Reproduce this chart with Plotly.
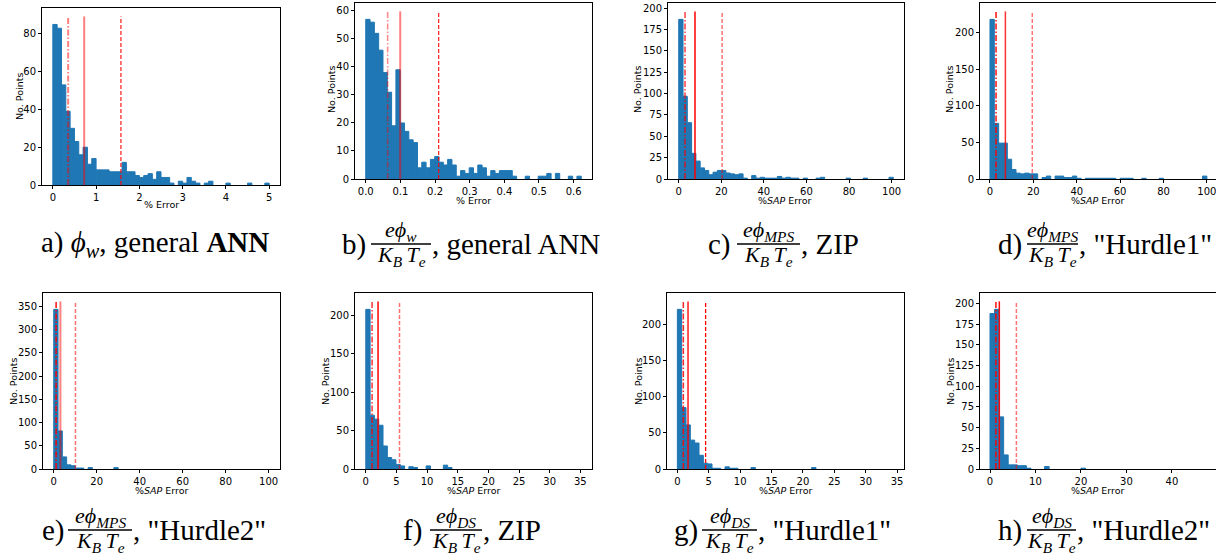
import plotly.graph_objects as go

W, H = 1216, 558

# ---- histogram data: 50 bins per panel (first edge, bin width, counts) ----
bins_a = (0.0, 0.1)
counts_a = [85, 83, 53, 39, 30, 23, 16, 20, 11, 14,
            8, 8, 8, 7, 7, 7, 12, 7, 7, 5,
            4, 5, 6, 3, 7, 4, 4, 1, 0, 2,
            1, 4, 2, 1, 0, 1, 2, 0, 0, 0,
            1, 0, 0, 0, 0, 1, 0, 0, 0, 1]

bins_b = (0.0, 0.01244)
counts_b = [57, 56, 52, 46, 38, 31, 19, 39, 20, 17,
            14, 13, 4, 6, 4, 7, 8, 6, 5, 7,
            5, 1, 3, 2, 4, 2, 5, 4, 1, 3,
            2, 3, 3, 3, 1, 0, 0, 1, 0, 0,
            1, 1, 2, 0, 2, 0, 0, 1, 0, 1]

bins_c = (0.0, 2.016)
counts_c = [187, 97, 66, 30, 21, 13, 10, 5, 8, 10,
            10, 7, 6, 5, 6, 1, 0, 4, 1, 2,
            1, 1, 1, 3, 1, 2, 1, 1, 0, 1,
            0, 0, 1, 2, 0, 0, 0, 0, 0, 1,
            0, 0, 0, 1, 0, 0, 0, 0, 0, 2]

bins_d = (0.0, 2.0)
counts_d = [218, 76, 49, 49, 27, 13, 8, 7, 8, 7,
            7, 0, 2, 4, 0, 4, 4, 2, 2, 4,
            1, 0, 1, 1, 1, 1, 1, 1, 1, 0,
            1, 1, 1, 0, 0, 1, 0, 0, 0, 1,
            0, 0, 0, 0, 0, 0, 0, 0, 0, 4]

bins_e = (0.0, 2.0)
counts_e = [344, 82, 26, 9, 7, 2, 2, 0, 3, 0,
            0, 0, 0, 0, 3, 0, 0, 0, 0, 0,
            0, 0, 0, 0, 0, 0, 0, 0, 0, 0,
            0, 0, 0, 0, 0, 0, 0, 0, 0, 0,
            0, 0, 0, 0, 0, 0, 0, 0, 0, 0]

bins_f = (0.0, 0.703)
counts_f = [208, 70, 65, 57, 30, 15, 12, 6, 4, 0,
            3, 2, 0, 0, 4, 0, 0, 0, 5, 2,
            0, 0, 0, 0, 0, 0, 0, 0, 0, 0,
            0, 0, 0, 0, 0, 0, 0, 0, 0, 0,
            0, 0, 0, 0, 0, 0, 0, 0, 0, 0]

bins_g = (0.0, 0.69)
counts_g = [221, 85, 61, 40, 36, 19, 8, 7, 1, 1,
            0, 3, 1, 1, 0, 0, 0, 2, 0, 0,
            0, 0, 0, 0, 0, 0, 0, 0, 0, 0,
            0, 2, 0, 0, 0, 0, 0, 0, 0, 0,
            0, 0, 0, 0, 0, 0, 0, 0, 0, 0]

bins_h = (0.0, 1.0)
counts_h = [188, 193, 63, 17, 5, 5, 4, 4, 1, 0,
            0, 0, 3, 0, 0, 0, 0, 0, 0, 0,
            1, 0, 0, 0, 0, 0, 0, 0, 0, 0,
            0, 0, 0, 0, 0, 0, 0, 0, 0, 0,
            0, 0, 0, 0, 0, 0, 0, 0, 0, 0]

# reference markers per panel: median (dash-dot), mean (solid), upper (dashed)
marks_a = [0.355, 0.725, 1.574]
marks_b = [0.0632, 0.0995, 0.2105]
marks_c = [2.96, 7.64, 20.4]
marks_d = [2.8, 7.1, 19.5]
marks_e = [1.1, 3.1, 10.1]
marks_f = [1.03, 2.0, 5.5]
marks_g = [0.95, 1.7, 4.5]
marks_h = [1.3, 2.05, 5.8]

# tick values
xticks_a = [0, 1, 2, 3, 4, 5]
xticks_b = [0.0, 0.1, 0.2, 0.3, 0.4, 0.5, 0.6]
xticks_pct = [0, 20, 40, 60, 80, 100]
xticks_fg = [0, 5, 10, 15, 20, 25, 30, 35]
xticks_h = [0, 10, 20, 30, 40]
yticks_a = [0, 20, 40, 60, 80]
yticks_b = [0, 10, 20, 30, 40, 50, 60]
yticks_25 = [0, 25, 50, 75, 100, 125, 150, 175, 200]
yticks_50_200 = [0, 50, 100, 150, 200]
yticks_e = [0, 50, 100, 150, 200, 250, 300, 350]

xlabel_plain = "% Error"
xlabel_sap = "%<i>SAP</i> Error"
ylabel = "No. Points"

BAR = "#1f77b4"
TICKFONT = dict(family="DejaVu Sans", size=10, color="#000000")
LABELFONT = dict(family="DejaVu Sans", size=9.5, color="#000000")


def red(a):
    return f"rgba(255,0,0,{a})"


# panel layout: pixel boxes (left, right, top, bottom), x range, ticks, labels
panels = [
    dict(bins=bins_a, counts=counts_a, marks=marks_a, box=(42, 280, 8, 185),
         xr=[-0.25, 5.25], xt=xticks_a, yt=yticks_a, xfmt="", xl=xlabel_plain,
         xlp=(161, 205), ylp=(19, 97), alphas=(0.5, 0.5, 0.9), widths=(2, 2, 1.2)),
    dict(bins=bins_b, counts=counts_b, marks=marks_b, box=(355, 592, 3, 179),
         xr=[-0.031, 0.653], xt=xticks_b, yt=yticks_b, xfmt=".1f", xl=xlabel_plain,
         xlp=(473, 200), ylp=(332, 90), alphas=(0.45, 0.5, 0.9), widths=(1.6, 2, 1.2)),
    dict(bins=bins_c, counts=counts_c, marks=marks_c, box=(668, 904, 3, 179),
         xr=[-5.04, 105.84], xt=xticks_pct, yt=yticks_25, xfmt="", xl=xlabel_sap,
         xlp=(785, 200), ylp=(638, 90), alphas=(0.75, 1.0, 0.55), widths=(1.5, 1.5, 1.5)),
    dict(bins=bins_d, counts=counts_d, marks=marks_d, box=(980, 1216, 3, 179),
         xr=[-4.6, 104.2], xt=xticks_pct, yt=yticks_50_200, xfmt="", xl=xlabel_sap,
         xlp=(1098, 200), ylp=(950, 90), alphas=(0.95, 0.8, 0.55), widths=(1.5, 1.5, 1.5),
         open_right=True),
    dict(bins=bins_e, counts=counts_e, marks=marks_e, box=(43, 280, 293, 469),
         xr=[-5.0, 105.3], xt=xticks_pct, yt=yticks_e, xfmt="", xl=xlabel_sap,
         xlp=(162, 490), ylp=(13, 382), alphas=(0.95, 0.5, 0.55), widths=(1.5, 2, 1.5)),
    dict(bins=bins_f, counts=counts_f, marks=marks_f, box=(355, 592, 293, 469),
         xr=[-1.76, 36.9], xt=xticks_fg, yt=yticks_50_200, xfmt="", xl=xlabel_sap,
         xlp=(474, 490), ylp=(325, 382), alphas=(0.8, 1.0, 0.55), widths=(1.5, 1.5, 1.5)),
    dict(bins=bins_g, counts=counts_g, marks=marks_g, box=(667, 904, 293, 469),
         xr=[-1.65, 36.1], xt=xticks_fg, yt=yticks_50_200, xfmt="", xl=xlabel_sap,
         xlp=(786, 490), ylp=(638, 382), alphas=(0.85, 0.9, 1.0), widths=(1.5, 1.5, 1.3)),
    dict(bins=bins_h, counts=counts_h, marks=marks_h, box=(980, 1216, 293, 469),
         xr=[-2.2, 49.7], xt=xticks_h, yt=yticks_25, xfmt="", xl=xlabel_sap,
         xlp=(1098, 490), ylp=(950, 382), alphas=(0.95, 0.95, 0.55), widths=(1.5, 1.5, 1.5),
         open_right=True),
]

DASHES = ("6px,2px,1.5px,2px", "solid", "4px,2px")

fig = go.Figure()
annotations = []
layout = {}

for i, p in enumerate(panels, start=1):
    sfx = "" if i == 1 else str(i)
    xa, ya = "x" + sfx, "y" + sfx
    start, bw = p["bins"]
    counts = p["counts"]
    xs = [start + bw * (k + 0.5) for k, c in enumerate(counts) if c > 0]
    ys = [c for c in counts if c > 0]
    fig.add_trace(go.Bar(x=xs, y=ys, width=bw,
                         marker=dict(color=BAR, line=dict(width=1, color=BAR)),
                         xaxis=xa, yaxis=ya, showlegend=False, hoverinfo="skip"))
    top = 1.05 * max(counts)
    for v, dash, a, lw in zip(p["marks"], DASHES, p["alphas"], p["widths"]):
        fig.add_trace(go.Scatter(x=[v, v], y=[0, top], mode="lines",
                                 line=dict(color=red(a), width=lw, dash=dash),
                                 xaxis=xa, yaxis=ya, showlegend=False, hoverinfo="skip"))
    l, r, t, b = p["box"]
    common = dict(showline=True, linecolor="#000000", linewidth=1,
                  ticks="outside", ticklen=3, tickwidth=1, tickcolor="#000000",
                  showgrid=False, zeroline=False, tickfont=TICKFONT, automargin=False,
                  ticklabeloverflow="allow")
    layout["xaxis" + sfx] = dict(domain=[l / W, r / W], range=p["xr"], tickvals=p["xt"],
                                 tickformat=p["xfmt"], anchor=ya, mirror=True, **common)
    layout["yaxis" + sfx] = dict(domain=[1 - b / H, 1 - t / H], range=[0, 1.05 * top],
                                 tickvals=p["yt"], anchor=xa,
                                 mirror=not p.get("open_right", False), **common)
    annotations.append(dict(text=p["xl"], x=p["xlp"][0] / W, y=1 - p["xlp"][1] / H,
                            xref="paper", yref="paper", showarrow=False, font=LABELFONT,
                            xanchor="center", yanchor="middle"))
    annotations.append(dict(text=ylabel, x=p["ylp"][0] / W, y=1 - p["ylp"][1] / H,
                            xref="paper", yref="paper", showarrow=False, font=LABELFONT,
                            textangle=-90, xanchor="center", yanchor="middle"))

# ---- captions ----
SERIF = "Liberation Serif, DejaVu Serif, serif"
CAP = dict(family=SERIF, size=29, color="#000000")
FRAC = dict(family=SERIF, size=22, color="#000000")

den = "<i>K</i><sub><i>B</i></sub>\u2009<i>T</i><sub><i>e</i></sub>"
num_w = "<i>eϕ</i><sub><i>w</i></sub>"
num_mps = "<i>eϕ</i><sub><i>MPS</i></sub>"
num_ds = "<i>eϕ</i><sub><i>DS</i></sub>"

caption_a = "a) <i>ϕ</i><sub><i>w</i></sub>, general <b>ANN</b>"
captions = [
    ("b)", num_w, ", general ANN"),
    ("c)", num_mps, ", ZIP"),
    ("d)", num_mps, ', "Hurdle1"'),
    ("e)", num_mps, ', "Hurdle2"'),
    ("f)", num_ds, ", ZIP"),
    ("g)", num_ds, ', "Hurdle1"'),
    ("h)", num_ds, ', "Hurdle2"'),
]
# (label left, fraction left, fraction right, fraction bar height)
caption_pos = [
    (342, 371, 431, 244),
    (708, 737, 800, 244),
    (998, 1027, 1078, 244),
    (42, 68, 132, 530),
    (403, 430, 482, 530),
    (674, 702, 757, 530),
    (998, 1027, 1076, 530),
]

shapes = []


def cap_text(text, x, y, font, xanchor="left", yanchor="middle"):
    return dict(text=text, x=x / W, y=1 - y / H, xref="paper", yref="paper",
                showarrow=False, font=font, xanchor=xanchor, yanchor=yanchor,
                align="left", borderpad=0)


annotations.append(cap_text(caption_a, 40, 244, CAP))
for (lab, num, tail), (xl, fl, fr, yc) in zip(captions, caption_pos):
    fc = (fl + fr) / 2
    annotations.append(cap_text(lab, xl - 1, yc, CAP))
    annotations.append(cap_text(num, fc, yc + 2, FRAC, "center", "bottom"))
    annotations.append(cap_text(den, fc, yc - 3, FRAC, "center", "top"))
    annotations.append(cap_text(tail, fr, yc, CAP))
    shapes.append(dict(type="line", xref="paper", yref="paper", x0=fl / W, x1=fr / W,
                       y0=1 - yc / H, y1=1 - yc / H, line=dict(color="#000000", width=1.3)))

fig.update_layout(width=W, height=H, margin=dict(l=0, r=0, t=0, b=0),
                  paper_bgcolor="white", plot_bgcolor="white",
                  annotations=annotations, shapes=shapes, **layout)

fig.write_html("out.html")
